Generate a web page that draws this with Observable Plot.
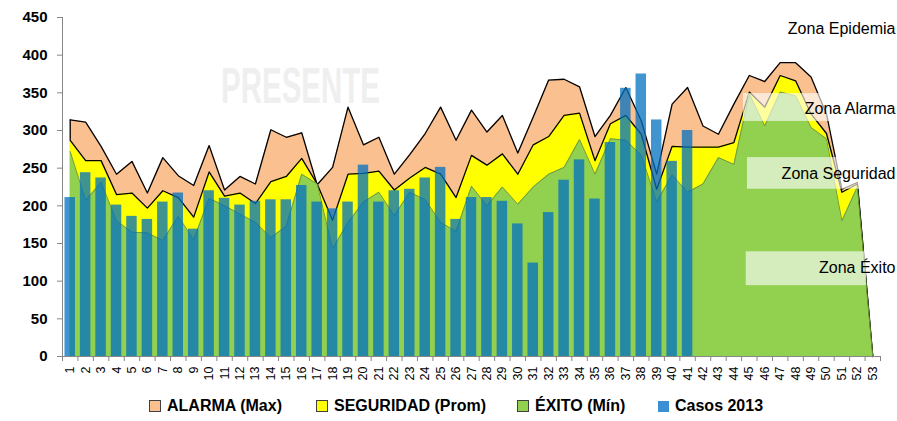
<!DOCTYPE html>
<html>
<head>
<meta charset="utf-8">
<script src="https://cdn.jsdelivr.net/npm/d3@7"></script>
<script src="https://cdn.jsdelivr.net/npm/@observablehq/plot@0.6"></script>
<style>
  html, body { margin: 0; padding: 0; background: #fff; }
  #wrap { position: relative; width: 897px; height: 421px; font-family: "Liberation Sans", Arial, sans-serif; }
  #legend { position: absolute; left: 0; top: 390px; width: 897px; height: 31px; }
  .item { position: absolute; top: 7px; display: flex; align-items: center; font-weight: bold; font-size: 16px; color: #000; white-space: nowrap; }
  .sw { width: 10px; height: 10px; border: 1px solid #404040; margin-right: 6px; }
</style>
</head>
<body>
<div id="wrap">
  <div id="chart"></div>
  <div id="legend"></div>
</div>
<script>
// ---- Data ----
const weeks = [1,2,3,4,5,6,7,8,9,10,11,12,13,14,15,16,17,18,19,20,21,22,23,24,25,26,27,28,29,30,31,32,33,34,35,36,37,38,39,40,41,42,43,44,45,46,47,48,49,50,51,52,53];
const alarmaMax = [314,311,279,242,259,217,264,240,227,280,221,239,229,301,291,297,228,251,331,281,291,242,268,296,331,287,327,298,320,270,318,367,368,358,292,320,357,313,242,335,357,306,295,335,373,365,390,390,371,322,222,231,0];
const seguridadProm = [287,260,260,215,217,197,220,211,185,245,213,217,203,232,239,263,229,181,242,243,246,221,237,251,242,211,267,254,269,242,281,292,320,323,260,309,320,295,222,279,278,278,278,284,351,331,373,366,322,296,218,229,0];
const exitoMin = [272,207,231,180,165,164,154,186,155,210,200,189,178,158,173,242,229,143,178,205,218,187,218,208,178,166,226,200,225,202,225,242,251,288,242,289,287,267,205,241,218,229,264,255,349,306,351,346,304,289,180,225,0];
const casos2013 = [211,244,237,201,186,182,205,217,169,220,210,201,206,208,208,227,205,196,205,254,205,220,222,237,251,182,211,211,206,176,124,191,234,261,209,284,356,375,314,259,300];
const yTicks = [0,50,100,150,200,250,300,350,400,450];
const seriesNames = ["ALARMA (Max)", "SEGURIDAD (Prom)", "ÉXITO (Mín)", "Casos 2013"];
const zoneNames = ["Zona Epidemia", "Zona Alarma", "Zona Seguridad", "Zona Éxito"];
const watermark = "PRESENTE";

// ---- Tables built from the arrays ----
const areaRows = weeks.map((w, i) => ({week: w, max: alarmaMax[i], prom: seguridadProm[i], min: exitoMin[i]}));
const barRows = casos2013.map((v, i) => ({week: weeks[i], casos: v}));
const boundaries = weeks.map(w => w - 0.5).concat([weeks[weeks.length - 1] + 0.5]);

const colors = {alarma: "#FAC090", seguridad: "#FFFF00", exito: "#92D050", casos: "#0070C0"};

const plot = Plot.plot({
  width: 897,
  height: 390,
  marginLeft: 62,
  marginRight: 17,
  marginTop: 17,
  marginBottom: 34,
  style: {fontFamily: "'Liberation Sans', Arial, sans-serif", background: "white", overflow: "visible"},
  x: {type: "linear", domain: [0.5, 53.5]},
  y: {domain: [0, 450]},
  marks: [
    Plot.text([watermark], {x: 15.92, y: 358, text: d => d, fontSize: 50, fontWeight: "bold", fill: "#efefef", fontFamily: "'Liberation Sans Narrow', 'Liberation Sans', sans-serif"}),
    Plot.areaY(areaRows, {x: "week", y: "max", fill: colors.alarma}),
    Plot.lineY(areaRows, {x: "week", y: "max", stroke: "#000", strokeWidth: 1.3}),
    Plot.ruleX(areaRows.slice(0, 1), {x: "week", y1: "prom", y2: "max", stroke: "#000", strokeWidth: 1.3}),
    Plot.areaY(areaRows, {x: "week", y: "prom", fill: colors.seguridad}),
    Plot.lineY(areaRows, {x: "week", y: "prom", stroke: "#000", strokeWidth: 1.3}),
    Plot.areaY(areaRows, {x: "week", y: "min", fill: colors.exito}),
    Plot.lineY(areaRows, {x: "week", y: "min", stroke: "#6E9B3C", strokeWidth: 1}),
    Plot.rectY(barRows, {x1: d => d.week - 0.34, x2: d => d.week + 0.34, y: "casos", fill: colors.casos, fillOpacity: 0.75}),
    Plot.rect(zoneNames.slice(1), {x1: [44.62, 44.88, 44.8], x2: [52.6, 52.7, 52.6], y1: [312, 222, 94], y2: [349, 264, 139], fill: "white", fillOpacity: 0.62}),
    Plot.text(zoneNames, {x: 54.47, y: [435, 329, 243, 117], text: d => d, textAnchor: "end", fontSize: 16, fill: "#000"}),
    Plot.ruleY([0], {stroke: "#868686"}),
    Plot.ruleX([0.5], {stroke: "#868686"}),
    Plot.axisX(boundaries, {tickSize: 5, tickFormat: () => "", stroke: "#868686", label: null}),
    Plot.axisX(weeks, {tickSize: 0, tickRotate: -90, tickPadding: 10, fontSize: 12.5, label: null, tickFormat: d => String(d)}),
    Plot.axisY(yTicks, {tickSize: 5, tickPadding: 10, fontSize: 15, fontWeight: "bold", stroke: "#868686", label: null})
  ]
});
document.getElementById("chart").appendChild(plot);

// compress watermark like the reference's condensed lettering
d3.select(plot).selectAll("text").filter(function() { return this.textContent === watermark; })
  .attr("textLength", 159).attr("lengthAdjust", "spacingAndGlyphs");

// ---- Legend ----
const legendItems = [
  {name: seriesNames[0], color: colors.alarma, left: 149, border: true},
  {name: seriesNames[1], color: colors.seguridad, left: 316, border: true},
  {name: seriesNames[2], color: colors.exito, left: 517, border: true},
  {name: seriesNames[3], color: "#3C8FD3", left: 658, border: false}
];
const legend = document.getElementById("legend");
legendItems.forEach(it => {
  const div = document.createElement("div");
  div.className = "item";
  div.style.left = it.left + "px";
  const sw = document.createElement("span");
  sw.className = "sw";
  sw.style.background = it.color;
  if (!it.border) { sw.style.border = "none"; sw.style.width = "11px"; sw.style.height = "11px"; }
  const tx = document.createElement("span");
  tx.textContent = it.name;
  div.appendChild(sw);
  div.appendChild(tx);
  legend.appendChild(div);
});
</script>
</body>
</html>
